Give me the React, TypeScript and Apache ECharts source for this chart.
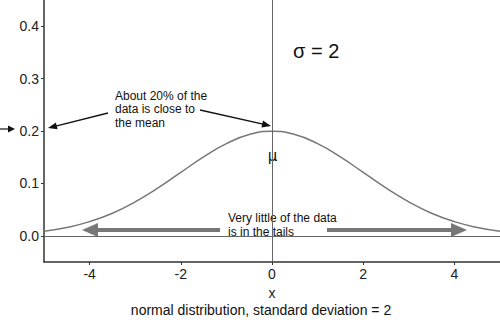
import React, { useEffect, useRef } from "react";
import * as echarts from "echarts";

const xValues = [-5, -4.5, -4, -3.5, -3, -2.5, -2, -1.5, -1, -0.5, 0, 0.5, 1, 1.5, 2, 2.5, 3, 3.5, 4, 4.5, 5];
const densityValues = [0.0088, 0.0159, 0.027, 0.0431, 0.0648, 0.0913, 0.121, 0.1506, 0.176, 0.1933, 0.1995, 0.1933, 0.176, 0.1506, 0.121, 0.0913, 0.0648, 0.0431, 0.027, 0.0159, 0.0088];
const xTicks = [-4, -2, 0, 2, 4];
const yTicks = [0, 0.1, 0.2, 0.3, 0.4];

const FONT = "Liberation Sans, Arial, sans-serif";

function arrow(x1: number, y1: number, x2: number, y2: number, color: string, width: number, headLen: number, headHalf: number) {
  const dx = x2 - x1;
  const dy = y2 - y1;
  const len = Math.sqrt(dx * dx + dy * dy);
  const ux = dx / len;
  const uy = dy / len;
  const bx = x2 - ux * headLen;
  const by = y2 - uy * headLen;
  const px = -uy;
  const py = ux;
  return [
    {
      type: "line",
      shape: { x1, y1, x2: bx + ux * 2, y2: by + uy * 2 },
      style: { stroke: color, lineWidth: width },
      silent: true,
    },
    {
      type: "polygon",
      shape: {
        points: [
          [x2, y2],
          [bx + px * headHalf, by + py * headHalf],
          [bx - px * headHalf, by - py * headHalf],
        ],
      },
      style: { fill: color },
      silent: true,
    },
  ];
}

export default function App() {
  const ref = useRef<HTMLDivElement>(null);
  useEffect(() => {
    if (!ref.current) return;
    const chart = echarts.init(ref.current, null, { renderer: "svg" });
    const data = xValues.map((x, i) => [x, densityValues[i]]);
    chart.setOption({
      animation: false,
      backgroundColor: "#ffffff",
      grid: { left: 44, right: 0, top: 0, bottom: 63 },
      xAxis: {
        type: "value",
        min: -5,
        max: 5,
        name: "x",
        nameLocation: "middle",
        nameGap: 24,
        nameTextStyle: { fontFamily: FONT, fontSize: 14, color: "#222" },
        axisLine: { show: true, onZero: false, lineStyle: { color: "#333", width: 1.5 } },
        axisTick: { show: true, customValues: xTicks, length: 3, lineStyle: { color: "#333" } },
        axisLabel: {
          customValues: xTicks,
          fontFamily: FONT,
          fontSize: 14,
          color: "#222",
          margin: 5,
          formatter: (v: number) => String(v),
        },
        splitLine: { show: false },
      },
      yAxis: {
        type: "value",
        min: -0.05,
        max: 0.45,
        axisLine: { show: true, onZero: false, lineStyle: { color: "#333", width: 1.5 } },
        axisTick: { show: true, customValues: yTicks, length: 3, lineStyle: { color: "#333" } },
        axisLabel: {
          customValues: yTicks,
          fontFamily: FONT,
          fontSize: 14,
          color: "#222",
          margin: 5,
          formatter: (v: number) => v.toFixed(1),
        },
        splitLine: { show: false },
      },
      series: [
        {
          type: "line",
          data,
          smooth: true,
          showSymbol: false,
          lineStyle: { color: "#777", width: 1.5 },
          markLine: {
            silent: true,
            symbol: ["none", "none"],
            label: { show: false },
            lineStyle: { color: "#666", width: 1, type: "solid" },
            data: [{ xAxis: 0 }, { yAxis: 0 }],
          },
        },
      ],
      graphic: [
        ...arrow(0, 129, 15, 129, "#111", 1.2, 7, 3.5),
        ...arrow(108, 113, 48, 128, "#111", 1.3, 9, 3.5),
        ...arrow(200, 110, 271, 126, "#111", 1.3, 9, 3.5),
        ...arrow(220, 230, 82, 230, "#777", 4, 16, 7),
        ...arrow(327, 230, 467, 230, "#777", 4, 16, 7),
        {
          type: "text",
          x: 115,
          y: 89,
          style: {
            text: "About 20% of the\ndata is close to\nthe mean",
            fontFamily: FONT,
            fontSize: 12,
            lineHeight: 13.5,
            fill: "#111",
            verticalAlign: "top",
          },
        },
        {
          type: "text",
          x: 228,
          y: 211,
          style: {
            text: "Very little of the data\nis in the tails",
            fontFamily: FONT,
            fontSize: 12,
            lineHeight: 14,
            fill: "#111",
            verticalAlign: "top",
          },
        },
        {
          type: "text",
          x: 293,
          y: 41,
          style: { text: "σ = 2", fontFamily: FONT, fontSize: 20, fill: "#111", verticalAlign: "top" },
        },
        {
          type: "text",
          x: 272.5,
          y: 148,
          style: { text: "μ", fontFamily: "DejaVu Sans, sans-serif", fontSize: 15, fill: "#111", align: "center", verticalAlign: "top" },
        },
        {
          type: "text",
          x: 261,
          y: 303,
          style: {
            text: "normal distribution, standard deviation = 2",
            fontFamily: FONT,
            fontSize: 14,
            fill: "#111",
            align: "center",
            verticalAlign: "top",
          },
        },
      ],
    });
    return () => chart.dispose();
  }, []);
  return <div ref={ref} style={{ position: "fixed", left: 0, top: 0, width: 500, height: 325 }} />;
}
